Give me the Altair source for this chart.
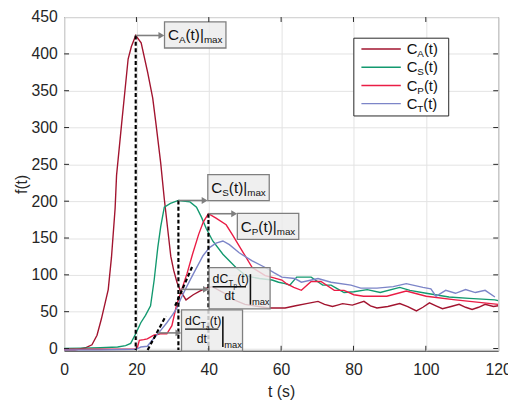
import altair as alt
import pandas as pd

# ---------------- data ----------------
series_names = ["C_A", "C_S", "C_P", "C_T"]
series_subs = ["A", "S", "P", "T"]
series_colors = ["#A2142F", "#13996F", "#EA1D45", "#7C85C8"]

t_A = [0, 3, 5.9, 7.7, 9.1, 10.3, 12.2, 13.1, 14.1, 14.5, 15.9, 16.8, 17.7, 18.6, 19.8,
       21.3, 23.1, 24.5, 25.4, 26.7, 27.7, 28.6, 29.5, 30.3, 31.2, 32.1, 33.7, 35.7, 37.5,
       39.3, 41, 44, 47, 50, 53.8, 56.5, 59.3, 61.1, 64, 67, 70.2, 72, 74.2, 75.6, 77,
       79.7, 82.9, 84.7, 86.5, 89.5, 92.8, 95, 97.4, 99.2, 101, 102.8, 104.6, 107, 109.2,
       111, 112.8, 114.6, 116.4, 118.7, 120]
f_A = [-2, -2, 1, 5, 18, 40, 80, 124, 190, 235, 305, 349, 393, 410, 425,
       415, 375, 340, 305, 252, 203, 164, 125, 106, 90, 79, 66, 73, 78,
       82, 84, 76, 66, 60, 57, 55, 55, 55, 58, 61, 64, 60, 57, 59, 61,
       59, 64, 58, 55, 57, 61, 57, 51, 56, 62, 58, 54, 57, 60,
       56, 53, 56, 60, 57, 58]

t_S = [0, 5, 10, 14.8, 17, 18.4, 19.8, 21.2, 22.5, 23.9, 24.9, 25.9, 26.7, 27.7, 29.4,
       31.6, 33.5, 34.8, 36.6, 38, 39.3, 41.1, 43.9, 47.5, 50.2, 52, 54, 57.5, 59.3, 61.1,
       62.4, 64.3, 68.3, 71.5, 73.8, 75.6, 77.4, 80.1, 83.8, 87.4, 92.8, 95.6, 100.1,
       106.4, 112, 119.1, 120]
f_S = [0, 0.5, 1, 2, 4, 7, 20, 35, 45, 58, 93, 137, 165, 192, 197,
       201, 200, 199, 192, 178, 163, 146, 128, 110, 99, 97, 95, 93, 90, 88,
       86, 97, 97, 86, 86, 81, 76, 77, 80, 76, 83, 79, 75,
       70, 68, 66, 65]

t_P = [0, 10, 19.5, 20.3, 20.8, 22, 23, 24.8, 26.6, 28.4, 29.8, 31, 32.5, 34, 35.5,
       37.2, 38.5, 39.9, 42, 44.8, 46.6, 49.3, 52, 55.6, 58, 60.2, 61.5, 63.5, 65.6,
       68.3, 71, 74.7, 77.4, 80.1, 82.8, 89.2, 94.6, 100.1, 108.2, 120]
f_P = [-1, -1, -1, 2, 11, 12, 13, 18, 20, 20, 31, 57, 80, 102, 128,
       155, 172, 183, 177, 168, 154, 132, 110, 99, 96, 93, 88, 83, 79,
       91, 91, 79, 79, 73, 71, 71, 78, 71, 66, 60]

t_T = [0, 10, 19.5, 20.3, 21.2, 23, 24.8, 26.6, 28.4, 30, 31.2, 32.2, 34, 35.8, 38.4,
       40.2, 42, 43.9, 45.7, 48.4, 52, 55.6, 58, 60.2, 63.8, 65.6, 70.2, 73.8, 79.3,
       82, 86.5, 91, 94.6, 99.2, 101.4, 102.8, 105.5, 108.2, 111, 113.7, 116.4, 119.1]
f_T = [-2, -2, -1, 0, 2, 3, 14, 24, 35, 46, 55, 67, 85, 102, 126,
       137, 143, 146, 141, 130, 119, 110, 103, 97, 95, 90, 95, 90, 86,
       82, 82, 84, 88, 83, 81, 71, 79, 75, 80, 76, 79, 70]

x_ticks = [0, 20, 40, 60, 80, 100, 120]
y_ticks = [0, 50, 100, 150, 200, 250, 300, 350, 400, 450]

# tangent (slope) lines: (t0, f0, t1, f1)
tangent_Ta = [23.1, -2, 28.1, 44]
tangent_Tp = [30.7, 58, 35.4, 111]

# ---------------- layout / style ----------------
W, H = 441, 339
XD = [0, 120]
YD = [-3, 450]
PXT = W / (XD[1] - XD[0])
PXV = H / (YD[1] - YD[0])
FONT = "Liberation Sans"
INK = "#262626"
TXT = "#111111"
GRAY = "#7f7f7f"

CW = {"C": 0.722, "A": 0.667, "S": 0.667, "P": 0.667, "T": 0.611, "(": 0.333, ")": 0.333,
      "t": 0.278, "|": 0.26, "m": 0.833, "a": 0.556, "x": 0.5, "d": 0.556, "p": 0.556}


def tw(s, size):
    return sum(CW.get(c, 0.556) for c in s) * size


def dT(px):
    return px / PXT


def dV(px):
    return px / PXV


series = {"C_A": (t_A, f_A), "C_S": (t_S, f_S), "C_P": (t_P, f_P), "C_T": (t_T, f_T)}
rows = []
for name in series_names:
    ts, fs = series[name]
    for i, (t, f) in enumerate(zip(ts, fs)):
        rows.append(dict(series=name, t=t, v=f, i=i))
df = pd.DataFrame(rows)


def peak(name):
    ts, fs = series[name]
    k = max(range(len(fs)), key=lambda j: fs[j])
    return ts[k], fs[k]


texts, rects, rules, dashed, arrows, heads = [], [], [], [], [], []


def put_text(t0, v0, dx, base, s, size, color=TXT):
    texts.append(dict(t=t0 + dT(dx), v=v0 - dV(base), s=s, size=size, c=color))


def run(t0, v0, dx, base, parts):
    x = dx
    for s, size, dy in parts:
        put_text(t0, v0, x, base + dy, s, size)
        x += tw(s, size)
    return x


def arrow(t0, v0, t1):
    tip_c = t1 - dT(3.2)
    arrows.append(dict(t=t0, v=v0, t2=tip_c, v2=v0))
    heads.append(dict(t=tip_c, v=v0))


def cbox(t0, v0, sub):
    parts = [("C", 15.5, 0), (sub, 10, 3), ("(t)", 15.5, 0), ("|", 15.5, 0), ("max", 10, 3)]
    end = run(t0, v0, 3.5, 18.8, parts)
    rects.append(dict(t=t0, v=v0, t2=t0 + dT(end + 3.5), v2=v0 - dV(26.5)))


def fbox(t0, v0, sub):
    rects.append(dict(t=t0, v=v0, t2=t0 + dT(62), v2=v0 - dV(42)))
    put_text(t0, v0, 3.6, 15.7, "dC", 12.5)
    x = 3.6 + tw("dC", 12.5)
    put_text(t0, v0, x, 18.5, "T", 8.5)
    put_text(t0, v0, x + 5.3, 20.8, sub, 6.5)
    put_text(t0, v0, x + 9.0, 15.7, "(t)", 12.5)
    rules.append(dict(t=t0 + dT(3.6), v=v0 - dV(19.5), t2=t0 + dT(37.5), v2=v0 - dV(19.5), w=1.3))
    put_text(t0, v0, 20.7 - tw("dt", 12.5) / 2, 33.3, "dt", 12.5)
    rules.append(dict(t=t0 + dT(42), v=v0 - dV(6.7), t2=t0 + dT(42), v2=v0 - dV(37.7), w=1.6))
    put_text(t0, v0, 43.5, 38.3, "max", 9.5)


# label boxes (top-left corner, data units)
box_A = (27.76, 443.4)
box_S = (39.73, 236.1)
box_P = (47.89, 183.6)
box_Tp = (40.08, 109.9)
box_Ta = (32.46, 52.5)

for name, box, sub in [("C_A", box_A, "A"), ("C_S", box_S, "S"), ("C_P", box_P, "P")]:
    pt, pv = peak(name)
    dashed.append(dict(t=pt, v=pv, t2=pt, v2=-2))
    arrow(pt, pv, box[0])
    cbox(box[0], box[1], sub)

for seg in (tangent_Ta, tangent_Tp):
    dashed.append(dict(t=seg[0], v=seg[1], t2=seg[2], v2=seg[3]))

arrow(32.2, 80.3, box_Tp[0])
fbox(box_Tp[0], box_Tp[1], "p")
arrow(25.85, 21.2, box_Ta[0])
fbox(box_Ta[0], box_Ta[1], "a")

# legend
LT, LV = 80.1, 421.3
legend_box = [dict(t=LT, v=LV, t2=LT + dT(96.4), v2=LV - dV(79))]
legend_lines = []
for k, (name, sub, col) in enumerate(zip(series_names, series_subs, series_colors)):
    ry = 11 + 18.5 * k
    legend_lines.append(dict(t=LT + dT(7.7), t2=LT + dT(47.7), v=LV - dV(ry), v2=LV - dV(ry), c=col))
    run(LT, LV, 53.7, ry + 5.3, [("C", 15, 0), (sub, 10, 3), ("(t)", 15, 0)])

# inward frame ticks
ticks = []
for x in x_ticks[1:-1]:
    ticks.append(dict(t=x, v=YD[0], t2=x, v2=YD[0] + dV(5)))
    ticks.append(dict(t=x, v=YD[1], t2=x, v2=YD[1] - dV(5)))
for y in y_ticks[:-1]:
    ticks.append(dict(t=XD[0], v=y, t2=XD[0] + dT(5), v2=y))
    ticks.append(dict(t=XD[1], v=y, t2=XD[1] - dT(5), v2=y))

# ---------------- chart ----------------
xs = alt.Scale(domain=XD, nice=False, zero=False)
ys = alt.Scale(domain=YD, nice=False, zero=False)
AX = alt.Axis(values=x_ticks, title="t (s)", labelPadding=11, titlePadding=7, labelFlush=False)
AY = alt.Axis(values=y_ticks, title="f(t)", labelPadding=7, titlePadding=1)


def X(f="t"):
    return alt.X(f"{f}:Q", scale=xs, axis=AX, title="t (s)")


def Y(f="v"):
    return alt.Y(f"{f}:Q", scale=ys, axis=AY, title="f(t)")


curves = alt.Chart(df).mark_line(strokeWidth=1.4, clip=True).encode(
    x=X("t"), y=Y("v"),
    color=alt.Color("series:N", scale=alt.Scale(domain=series_names, range=series_colors),
                    legend=None),
    detail="series:N",
    order="i:Q",
)


def seg_layer(data, **mk):
    return alt.Chart(pd.DataFrame(data)).mark_rule(**mk).encode(
        x=X("t"), y=Y("v"), x2="t2:Q", y2="v2:Q")


dash_layer = seg_layer(dashed, color="black", strokeWidth=2.2, strokeDash=[4, 2.5])
arrow_layer = seg_layer(arrows, color=GRAY, strokeWidth=1.6)
head_layer = alt.Chart(pd.DataFrame(heads)).mark_point(
    shape="triangle-right", filled=True, size=48, color=GRAY, opacity=1).encode(x=X(), y=Y())
box_layer = alt.Chart(pd.DataFrame(rects)).mark_rect(
    fill="#ebebeb", fillOpacity=0.82, stroke=GRAY, strokeWidth=1.3).encode(
    x=X("t"), y=Y("v"), x2="t2:Q", y2="v2:Q")
frac_layer = alt.Chart(pd.DataFrame(rules)).mark_rule(color=TXT).encode(
    x=X("t"), y=Y("v"), x2="t2:Q", y2="v2:Q", strokeWidth=alt.StrokeWidth("w:Q", scale=None))
leg_box = alt.Chart(pd.DataFrame(legend_box)).mark_rect(
    fill="white", stroke=INK, strokeWidth=1).encode(x=X("t"), y=Y("v"), x2="t2:Q", y2="v2:Q")
leg_lines = alt.Chart(pd.DataFrame(legend_lines)).mark_rule(strokeWidth=1.4).encode(
    x=X("t"), y=Y("v"), x2="t2:Q", y2="v2:Q", color=alt.Color("c:N", scale=None))
text_layer = alt.Chart(pd.DataFrame(texts)).mark_text(
    align="left", baseline="alphabetic", font=FONT).encode(
    x=X("t"), y=Y("v"), text="s:N", size=alt.Size("size:Q", scale=None),
    color=alt.Color("c:N", scale=None))
tick_layer = seg_layer(ticks, color=INK, strokeWidth=1)

chart = alt.layer(
    curves, dash_layer, arrow_layer, head_layer, box_layer, frac_layer,
    leg_box, leg_lines, text_layer, tick_layer
).properties(
    width=W, height=H,
    autosize=alt.AutoSizeParams(type="none"),
    padding={"left": 57, "top": 6, "right": 10, "bottom": 56},
    background="white",
).configure_view(
    stroke=INK, strokeWidth=1
).configure_axis(
    grid=True, gridColor="#e2e2e2", gridWidth=1, ticks=False, domain=False,
    labelFont=FONT, labelFontSize=16, labelColor=INK,
    titleFont=FONT, titleFontSize=16, titleFontWeight="normal", titleColor=INK,
)

chart.save("out.html", embed_options={"renderer": "svg", "actions": False})
